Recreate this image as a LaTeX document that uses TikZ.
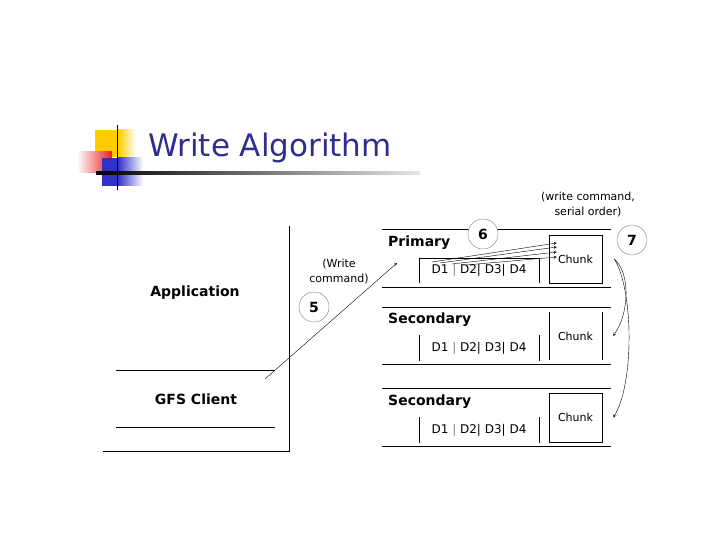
\documentclass[tikz,border=0pt]{standalone}
\usepackage{fontspec}
\setmainfont{DejaVu Sans}
\usepackage{xcolor}
\usetikzlibrary{arrows,positioning,shapes}
\definecolor{titleblue}{RGB}{46,46,140}
\definecolor{logoyellow}{RGB}{255,204,0}
\definecolor{logored}{RGB}{232,30,30}
\definecolor{logoblue}{RGB}{50,50,200}

\begin{document}
\begin{tikzpicture}[x=1pt, y=-1pt,
    role/.style={font=\fontsize{14}{16}\selectfont\bfseries, inner sep=0pt},
    note/.style={font=\fontsize{11}{15}\selectfont, inner sep=0pt, align=center},
    stepnum/.style={draw=gray, thin, circle, fill=white, minimum size=30pt, inner sep=0pt,
                    font=\fontsize{14}{14}\selectfont\bfseries},
    chunk/.style={note, minimum width=53pt, minimum height=48pt},
    dbox/.style={note, font=\fontsize{12}{15}\selectfont, minimum width=120pt, minimum height=25pt},
    flow/.style={->, >=stealth, thin}]
\useasboundingbox (0,0) rectangle (720,540);

% Draw the logo and title
\fill[logoyellow] (95,130) rectangle (118,157);
\shade[left color=logoyellow, right color=white] (118,130) rectangle (136,157);
\shade[left color=white, right color=logored] (77,152) rectangle (112,173);
\fill[logoblue] (102,158) rectangle (118,186);
\shade[left color=logoblue, right color=white] (118,158) rectangle (143,186);
\draw[thick] (117,125) -- (117,190);
\shade[left color=black, right color=gray!20] (96,172) rectangle (420,174.2);
\node[anchor=base west, inner sep=0pt, text=titleblue, font=\fontsize{31}{32}\selectfont]
    (title) at (148,157) {Write Algorithm};

% Client side
\node[role] (app) at (195,293) {Application};
\node[role] (gfs) at (196,399) {GFS Client};
\draw (289,226) -- (289,451) -- (103,451);
\draw (116,370) -- (275,370);
\draw (116,427) -- (275,427);

% Replica rows
\draw (382,229) -- (611,229);
\draw (382,287) -- (611,287);
\draw (382,307) -- (611,307);
\draw (382,364) -- (611,364);
\draw (382,388) -- (611,388);
\draw (382,446) -- (611,446);

\node[role, anchor=west] (prim) at (388,243) {Primary};
\node[role, anchor=west] (sec1) at (388,320) {Secondary};
\node[role, anchor=west] (sec2) at (388,402) {Secondary};

\node[dbox] (dP) at (479,270.5) {D1 \textcolor{gray}{|} D2| D3| D4};
\node[dbox] (dS1) at (479,348) {D1 \textcolor{gray}{|} D2| D3| D4};
\node[dbox] (dS2) at (479,430) {D1 \textcolor{gray}{|} D2| D3| D4};
\draw (dP.south west) -- (dP.north west) -- (dP.north east) -- (dP.south east);
\draw (dS1.south west) -- (dS1.north west) (dS1.south east) -- (dS1.north east);
\draw (dS2.south west) -- (dS2.north west) (dS2.south east) -- (dS2.north east);

\node[chunk, draw] (cP) at (575.5,259) {Chunk};
\node[chunk] (cS1) at (575.5,336) {Chunk};
\node[chunk, draw, minimum height=49pt] (cS2) at (575.5,417.5) {Chunk};
\draw (cS1.south west) -- (cS1.north west) (cS1.south east) -- (cS1.north east);

% Step 5: write command to primary
\node[note] (wcmd) at (339,272) {(Write\\command)};
\node[stepnum] (s5) at (314,307) {5};
\coordinate (wstart) at (265,379);
\coordinate (wend) at (397,263);
\draw[flow] (wstart) -- (wend);

% Step 6: data into the chunk
\node[stepnum] (s6) at (483,234) {6};
\coordinate (f1) at (432,262);
\coordinate (f2) at (440,263);
\coordinate (f3) at (452,264);
\coordinate (f4) at (466,265);
\draw[flow] (f1) -- ([xshift=8pt,yshift=16pt]cP.west);
\draw[flow] (f2) -- ([xshift=8pt,yshift=12pt]cP.west);
\draw[flow] (f3) -- ([xshift=8pt,yshift=7pt]cP.west);
\draw[flow] (f4) -- ([xshift=8pt,yshift=2pt]cP.west);

% Step 7: forward to secondaries
\node[note] (serial) at (588,205) {(write command,\\serial order)};
\node[stepnum] (s7) at (632,240) {7};
\draw[flow] ([xshift=12pt]cP.east) .. controls (630,272) and (630,312) .. ([xshift=11pt]cS1.east);
\draw[flow] ([xshift=12pt]cP.east) .. controls (634,290) and (634,385) .. ([xshift=11pt]cS2.east);
\end{tikzpicture}
\end{document}
